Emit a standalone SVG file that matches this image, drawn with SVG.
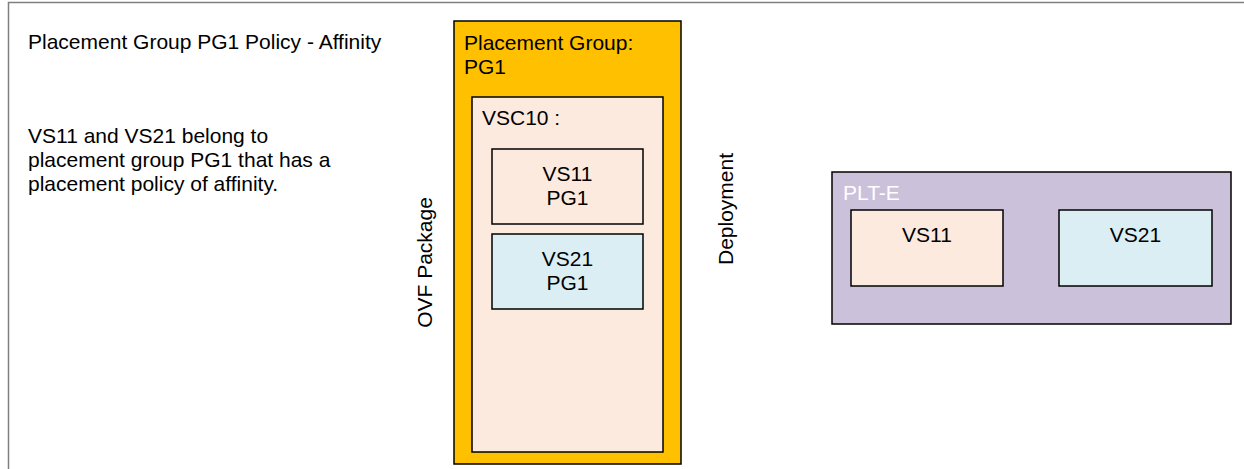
<svg xmlns="http://www.w3.org/2000/svg" width="1244" height="469" viewBox="0 0 1244 469">
<style>
text{font-family:"Liberation Sans",Arial,sans-serif;font-size:21px;fill:#000}
.box{stroke:#000;stroke-width:1.5}
.peach{fill:#FCEADE}
.blue{fill:#DAEEF3}
.mid{text-anchor:middle}
</style>
<rect x="0" y="0" width="1244" height="469" fill="#fff"/>
<path d="M8.5,470 V2.5 H1250" fill="none" stroke="#7f7f7f" stroke-width="1.5"/>
<g id="notes">
<text x="28" y="49">Placement Group PG1 Policy - Affinity</text>
<text x="28" y="143">VS11 and VS21 belong to</text>
<text x="28" y="167">placement group PG1 that has a</text>
<text x="28" y="191">placement policy of affinity.</text>
</g>
<g id="label-ovf"><text class="mid" transform="translate(432,262.5) rotate(-90)">OVF Package</text></g>
<g id="label-deployment"><text class="mid" transform="translate(733,209) rotate(-90)">Deployment</text></g>
<g id="pg1">
<rect class="box" x="454" y="21" width="227" height="443" fill="#FFC000"/>
<text x="464" y="50">Placement Group:</text>
<text x="464" y="74">PG1</text>
</g>
<g id="vsc10">
<rect class="box peach" x="472" y="97" width="191" height="355"/>
<text x="482" y="125">VSC10 :</text>
</g>
<g id="vs11-pkg">
<rect class="box peach" x="492" y="149" width="151" height="75"/>
<text class="mid" x="567.5" y="181">VS11</text>
<text class="mid" x="567.5" y="205">PG1</text>
</g>
<g id="vs21-pkg">
<rect class="box blue" x="492" y="234" width="151" height="75"/>
<text class="mid" x="567.5" y="266">VS21</text>
<text class="mid" x="567.5" y="290">PG1</text>
</g>
<g id="plt-e">
<rect class="box" x="832" y="172" width="399" height="152" fill="#CCC1DA"/>
<text x="843" y="200" style="fill:#fff">PLT-E</text>
</g>
<g id="vs11-plt">
<rect class="box peach" x="851" y="210" width="152" height="76"/>
<text class="mid" x="927" y="242">VS11</text>
</g>
<g id="vs21-plt">
<rect class="box blue" x="1059" y="210" width="153" height="76"/>
<text class="mid" x="1135.5" y="242">VS21</text>
</g>
<g id="connectors"/>
</svg>
